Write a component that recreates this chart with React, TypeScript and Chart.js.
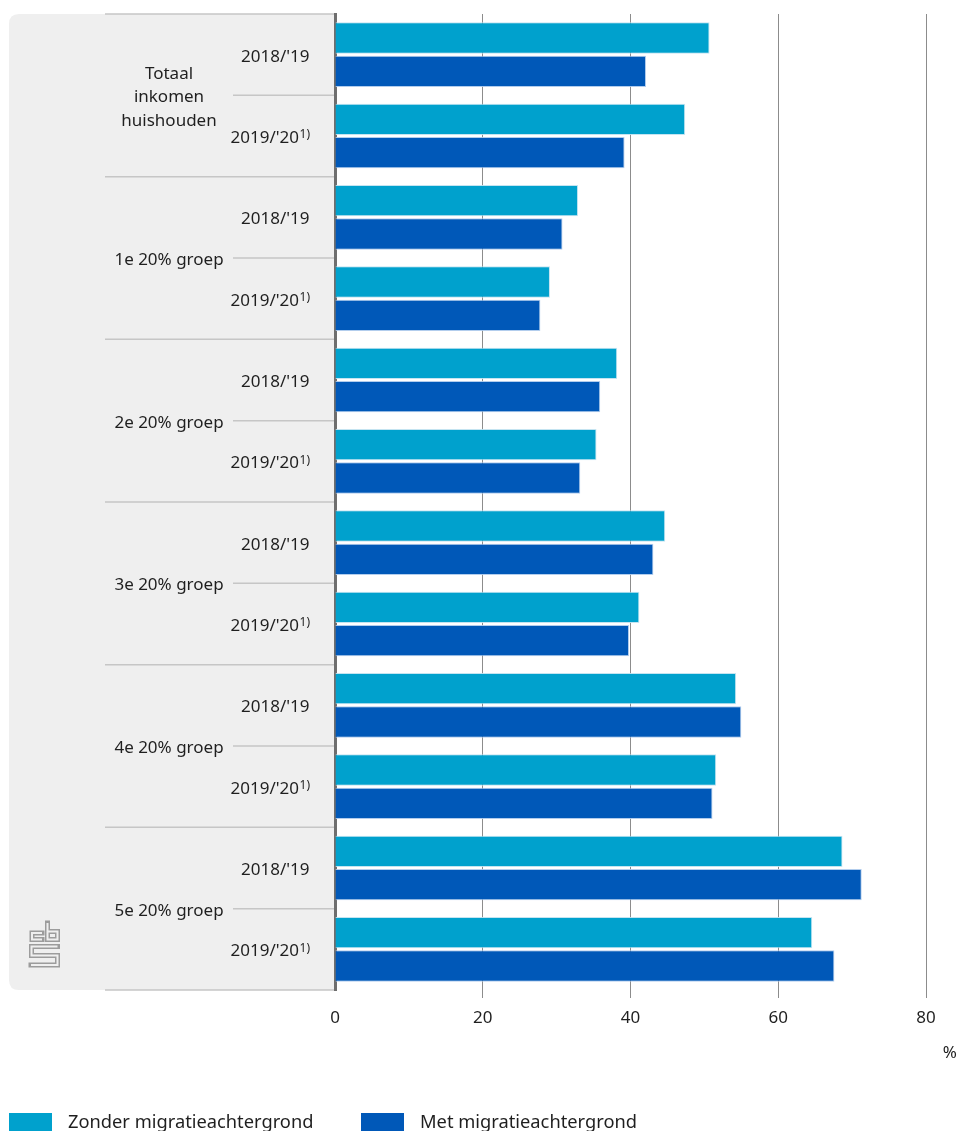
import React, { useEffect, useRef } from "react";
import { Chart, registerables } from "chart.js";

Chart.register(...registerables);

const groups = ["Totaal\ninkomen\nhuishouden", "1e 20% groep", "2e 20% groep", "3e 20% groep", "4e 20% groep", "5e 20% groep"];
const periods = ["2018/'19", "2019/'20"];
const periodNotes = ["", "1)"];
const zonder = [50.7, 47.4, 32.9, 29.1, 38.2, 35.4, 44.7, 41.2, 54.3, 51.6, 68.7, 64.6];
const met = [42.1, 39.2, 30.8, 27.8, 35.9, 33.2, 43.1, 39.8, 55.0, 51.1, 71.3, 67.6];
const seriesNames = ["Zonder migratieachtergrond", "Met migratieachtergrond"];
const seriesColors = ["#00a1cd", "#0058b8"];
const xMin = 0;
const xMax = 80;
const xStep = 20;
const unitLabel = "%";

const FONT = "'Noto Sans', 'DejaVu Sans', sans-serif";
const W = 959;
const H = 1131;

const rowLabels: string[] = [];
groups.forEach((g) => periods.forEach((p) => rowLabels.push(g.replace(/\n/g, " ") + " " + p)));

const sidePlugin = {
  id: "sidePanel",
  beforeDraw(chart: any) {
    const { ctx, chartArea } = chart;
    const left = 9;
    const right = chartArea.left;
    const top = chartArea.top;
    const bottom = chartArea.bottom;
    const r = 10;
    ctx.save();
    ctx.fillStyle = "#efefef";
    ctx.beginPath();
    ctx.moveTo(right, top);
    ctx.lineTo(left + r, top);
    ctx.quadraticCurveTo(left, top, left, top + r);
    ctx.lineTo(left, bottom - r);
    ctx.quadraticCurveTo(left, bottom, left + r, bottom);
    ctx.lineTo(right, bottom);
    ctx.closePath();
    ctx.fill();
    ctx.restore();
  },
  afterDraw(chart: any) {
    const { ctx, chartArea } = chart;
    const yScale = chart.scales.y;
    const n = rowLabels.length;
    const rowH = (chartArea.bottom - chartArea.top) / n;
    ctx.save();
    // separator lines
    ctx.strokeStyle = "#c6c6c6";
    ctx.lineWidth = 1.5;
    const per = periods.length;
    for (let gi = 0; gi <= groups.length; gi++) {
      const y = chartArea.top + gi * per * rowH;
      ctx.beginPath();
      ctx.moveTo(105, y);
      ctx.lineTo(chartArea.left - 1, y);
      ctx.stroke();
    }
    for (let gi = 0; gi < groups.length; gi++) {
      const y = chartArea.top + (gi * per + 1) * rowH;
      ctx.beginPath();
      ctx.moveTo(233, y);
      ctx.lineTo(chartArea.left - 1, y);
      ctx.stroke();
    }
    // group labels
    ctx.fillStyle = "#1f1f1f";
    ctx.textAlign = "center";
    ctx.textBaseline = "middle";
    ctx.font = `17px ${FONT}`;
    groups.forEach((g, gi) => {
      const yMid = chartArea.top + (gi * per + per / 2) * rowH;
      const lines = g.split("\n");
      const lh = 23.5;
      lines.forEach((ln, li) => {
        ctx.fillText(ln, 169, yMid + 2 + (li - (lines.length - 1) / 2) * lh);
      });
    });
    // period labels
    for (let i = 0; i < n; i++) {
      const y = yScale.getPixelForValue(i);
      const pi = i % per;
      const main = periods[pi];
      const note = periodNotes[pi];
      const xr = 310;
      ctx.textAlign = "right";
      ctx.textBaseline = "middle";
      let noteW = 0;
      if (note) {
        ctx.font = `12px ${FONT}`;
        noteW = ctx.measureText(note).width;
        ctx.fillText(note, xr, y - 1);
      }
      ctx.font = `17px ${FONT}`;
      ctx.fillText(main, xr - noteW - 0.5, y + 2);
    }
    // unit label
    ctx.textAlign = "right";
    ctx.font = `17px ${FONT}`;
    ctx.fillText(unitLabel, 957, 1053);
    // legend
    const legendX = [9, 361];
    seriesNames.forEach((name, si) => {
      ctx.fillStyle = seriesColors[si];
      ctx.fillRect(legendX[si], 1113, 43, 20);
      ctx.fillStyle = "#1f1f1f";
      ctx.textAlign = "left";
      ctx.textBaseline = "middle";
      ctx.font = `18.3px ${FONT}`;
      ctx.fillText(name, legendX[si] + 59, 1123);
    });
    // logo
    const drawStroke = (pts: number[][]) => {
      ctx.lineJoin = "miter";
      ctx.beginPath();
      pts.forEach((p, k) => (k === 0 ? ctx.moveTo(p[0], p[1]) : ctx.lineTo(p[0], p[1])));
      ctx.strokeStyle = "#9c9c9c";
      ctx.lineWidth = 5;
      ctx.lineCap = "square";
      ctx.stroke();
      ctx.strokeStyle = "#efefef";
      ctx.lineWidth = 2;
      ctx.lineCap = "butt";
      ctx.stroke();
    };
    drawStroke([[42, 933], [32, 933], [32, 939.5], [42, 939.5]]);
    drawStroke([[47.5, 923], [47.5, 939.5], [57.5, 939.5], [57.5, 931.5], [47.5, 931.5]]);
    drawStroke([[57.5, 946.5], [31.5, 946.5], [31.5, 955.5], [57.5, 955.5], [57.5, 965], [31, 965]]);
    ctx.restore();
  },
};

export default function App() {
  const ref = useRef<HTMLCanvasElement | null>(null);
  useEffect(() => {
    document.body.style.margin = "0";
    document.body.style.overflow = "hidden";
    const canvas = ref.current!;
    const chart = new Chart(canvas, {
      type: "bar",
      data: {
        labels: rowLabels,
        datasets: [
          {
            label: seriesNames[0],
            data: zonder,
            backgroundColor: seriesColors[0],
            borderColor: "rgba(190,225,240,0.9)",
            borderWidth: 1,
            categoryPercentage: 0.82,
            barPercentage: 0.94,
          },
          {
            label: seriesNames[1],
            data: met,
            backgroundColor: seriesColors[1],
            borderColor: "rgba(170,200,235,0.9)",
            borderWidth: 1,
            categoryPercentage: 0.82,
            barPercentage: 0.94,
          },
        ],
      },
      options: {
        indexAxis: "y",
        animation: false,
        responsive: false,
        devicePixelRatio: 1,
        layout: { padding: { top: 14, right: 33, left: 0, bottom: 0 } },
        plugins: {
          legend: { display: false },
          tooltip: { enabled: false },
        },
        scales: {
          x: {
            min: xMin,
            max: xMax,
            ticks: {
              stepSize: xStep,
              color: "#1f1f1f",
              font: { family: FONT, size: 17 },
              padding: 10,
            },
            grid: {
              color: (c: any) => (c.index === 0 ? "rgba(0,0,0,0)" : "#8c8c8c"),
              lineWidth: 1,
              drawTicks: true,
              tickLength: 8,
            },
            border: { display: false },
            afterFit: (s: any) => {
              s.height = 141;
            },
          },
          y: {
            ticks: { display: false },
            grid: { display: false, drawTicks: false },
            border: { display: true, color: "#6e6e6e", width: 3 },
            afterFit: (s: any) => {
              s.width = 335;
            },
          },
        },
      },
      plugins: [sidePlugin],
    } as any);
    return () => chart.destroy();
  }, []);
  return <canvas ref={ref} width={W} height={H} style={{ display: "block", width: W, height: H }} />;
}
